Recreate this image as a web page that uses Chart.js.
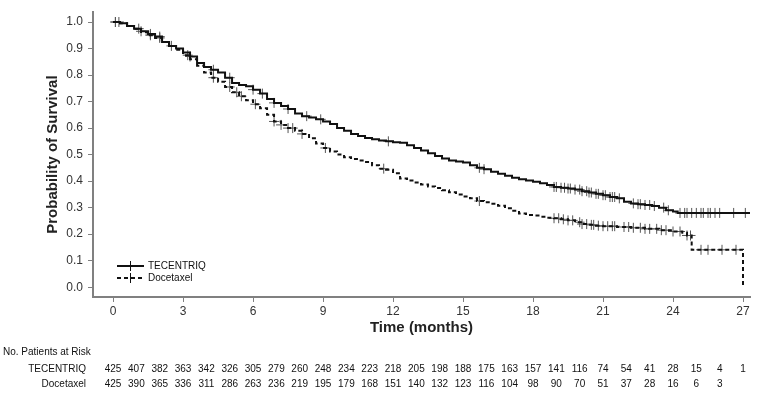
<!DOCTYPE html>
<html>
<head>
<meta charset="utf-8">
<script src="https://cdn.jsdelivr.net/npm/chart.js@4"></script>
<style>
  html, body { margin: 0; padding: 0; background: #fff; }
  #wrap { width: 763px; height: 394px; position: relative; }
</style>
</head>
<body>
<div id="wrap"><canvas id="kmChart" width="763" height="394"></canvas></div>
<script>
// Kaplan-Meier estimates (months, survival)
const tecTime = [0, 0.3, 0.6, 0.9, 1.2, 1.5, 1.8, 2.1, 2.4, 2.7, 3.0, 3.3, 3.6, 3.9, 4.2, 4.5, 4.8, 5.1, 5.4, 5.7,
  6.0, 6.3, 6.6, 6.9, 7.2, 7.5, 7.8, 8.1, 8.4, 8.7, 9.0, 9.3, 9.6, 9.9, 10.2, 10.5, 10.8, 11.1, 11.4, 11.7,
  12.0, 12.3, 12.6, 12.9, 13.2, 13.5, 13.8, 14.1, 14.4, 14.7, 15.0, 15.3, 15.6, 15.9, 16.2, 16.5, 16.8, 17.1,
  17.4, 17.7, 18.0, 18.3, 18.6, 18.9, 19.2, 19.5, 19.8, 20.1, 20.4, 20.7, 21.0, 21.3, 21.6, 21.9, 22.2, 22.5,
  22.8, 23.1, 23.4, 23.7, 24.0, 24.2, 27.3];
const tecSurv = [1.0, 0.995, 0.985, 0.975, 0.965, 0.955, 0.945, 0.925, 0.91, 0.9, 0.885, 0.87, 0.845, 0.83, 0.82, 0.81, 0.79, 0.77, 0.762, 0.758,
  0.745, 0.73, 0.71, 0.695, 0.683, 0.672, 0.655, 0.645, 0.64, 0.633, 0.625, 0.615, 0.6, 0.59, 0.578, 0.57, 0.563, 0.558, 0.553, 0.55,
  0.547, 0.545, 0.535, 0.525, 0.515, 0.505, 0.495, 0.485, 0.478, 0.474, 0.47, 0.46, 0.45, 0.445, 0.435, 0.428, 0.42, 0.413,
  0.407, 0.402, 0.398, 0.392, 0.385, 0.378, 0.375, 0.372, 0.368, 0.362, 0.357, 0.352, 0.347, 0.34, 0.335, 0.322, 0.316, 0.313,
  0.31, 0.306, 0.3, 0.29, 0.285, 0.28, 0.28];

const docTime = [0, 0.3, 0.6, 0.9, 1.2, 1.5, 1.8, 2.1, 2.4, 2.7, 3.0, 3.3, 3.6, 3.9, 4.2, 4.5, 4.8, 5.1, 5.4, 5.7,
  6.0, 6.3, 6.6, 6.9, 7.2, 7.5, 7.8, 8.1, 8.4, 8.7, 9.0, 9.3, 9.6, 9.9, 10.2, 10.5, 10.8, 11.1, 11.4, 11.7,
  12.0, 12.3, 12.6, 12.9, 13.2, 13.5, 13.8, 14.1, 14.4, 14.7, 15.0, 15.3, 15.6, 15.9, 16.2, 16.5, 16.8, 17.1,
  17.4, 17.7, 18.0, 18.3, 18.6, 18.9, 19.2, 19.5, 19.8, 20.1, 20.4, 20.7, 21.0, 21.6, 22.2, 22.8, 23.4, 24.0,
  24.4, 24.6, 24.8, 27.0];
const docSurv = [1.0, 0.995, 0.985, 0.975, 0.962, 0.95, 0.94, 0.925, 0.91, 0.895, 0.875, 0.86, 0.835, 0.81, 0.79, 0.775, 0.755, 0.735, 0.72, 0.705,
  0.69, 0.675, 0.65, 0.625, 0.612, 0.6, 0.59, 0.578, 0.562, 0.542, 0.525, 0.512, 0.5, 0.49, 0.483, 0.478, 0.472, 0.46, 0.447, 0.443,
  0.43, 0.41, 0.402, 0.395, 0.387, 0.38, 0.374, 0.366, 0.358, 0.35, 0.342, 0.335, 0.325, 0.32, 0.315, 0.307, 0.298, 0.288,
  0.278, 0.272, 0.27, 0.266, 0.262, 0.26, 0.256, 0.252, 0.245, 0.238, 0.235, 0.232, 0.23, 0.227, 0.224, 0.22, 0.215, 0.21,
  0.205, 0.195, 0.141, 0.0];

// censoring times (+ marks)
const tecCensor = [0.1, 0.25, 1.2, 1.6, 2.0, 3.3, 4.3, 5.0, 6.0, 6.4, 6.9, 7.5, 8.3, 8.9, 11.8, 15.7, 15.9,
  18.9, 19.0, 19.2, 19.35, 19.5, 19.6, 19.8, 20.0, 20.1, 20.3, 20.4, 20.5, 20.7, 20.8, 21.0, 21.1, 21.3, 21.4,
  21.5, 21.7, 22.3, 22.5, 22.6, 22.8, 23.0, 23.2, 23.6, 23.8, 24.3, 24.5, 24.6, 24.8, 25.0, 25.2, 25.3, 25.5,
  25.6, 25.8, 26.0, 26.6, 27.1];
const docCensor = [0.1, 1.1, 1.6, 2.0, 2.5, 3.2, 4.3, 5.0, 5.3, 5.5, 6.1, 6.9, 7.2, 7.5, 7.7, 8.1, 9.1, 11.6, 15.7,
  18.9, 19.1, 19.3, 19.5, 19.7, 20.0, 20.1, 20.3, 20.5, 20.6, 20.8, 21.0, 21.2, 21.4, 21.5, 21.9, 22.1, 22.3,
  22.6, 22.8, 23.0, 23.3, 23.5, 23.7, 24.0, 24.3, 24.6, 24.75, 25.2, 25.5, 26.1, 26.7];

// number at risk, one value per month
const riskMonths = [0, 1, 2, 3, 4, 5, 6, 7, 8, 9, 10, 11, 12, 13, 14, 15, 16, 17, 18, 19, 20, 21, 22, 23, 24, 25, 26, 27];
const tecRisk = [425, 407, 382, 363, 342, 326, 305, 279, 260, 248, 234, 223, 218, 205, 198, 188, 175, 163, 157, 141, 116, 74, 54, 41, 28, 15, 4, 1];
const docRisk = [425, 390, 365, 336, 311, 286, 263, 236, 219, 195, 179, 168, 151, 140, 132, 123, 116, 104, 98, 90, 70, 51, 37, 28, 16, 6, 3];

const xTicks = [0, 3, 6, 9, 12, 15, 18, 21, 24, 27];
const yTicks = [0, 0.1, 0.2, 0.3, 0.4, 0.5, 0.6, 0.7, 0.8, 0.9, 1.0];

const FONT = "'Liberation Sans', Arial, sans-serif";

function toPoints(xs, ys) {
  return xs.map((x, i) => ({ x: x, y: ys[i] }));
}

// survival value at time t (last step at or before t)
function survAt(times, surv, t) {
  let v = surv[0];
  for (let i = 0; i < times.length; i++) {
    if (times[i] <= t) v = surv[i];
  }
  return v;
}

function censorPoints(cens, times, surv) {
  return cens.map(t => ({ x: t, y: survAt(times, surv, t) }));
}

const extras = {
  id: "extras",
  afterDraw(chart) {
    const ctx = chart.ctx;
    const xs = chart.scales.x;
    ctx.save();
    ctx.font = "10px " + FONT;
    ctx.fillStyle = "#111";
    ctx.textBaseline = "middle";

    // risk table
    ctx.textAlign = "left";
    ctx.fillText("No. Patients at Risk", 3, 352);
    ctx.textAlign = "right";
    ctx.fillText("TECENTRIQ", 86, 369);
    ctx.fillText("Docetaxel", 86, 384);
    ctx.textAlign = "center";
    tecRisk.forEach((n, i) => ctx.fillText(String(n), xs.getPixelForValue(riskMonths[i]), 369));
    docRisk.forEach((n, i) => ctx.fillText(String(n), xs.getPixelForValue(riskMonths[i]), 384));

    // legend
    const rows = [
      { label: "TECENTRIQ", dash: [], y: 266 },
      { label: "Docetaxel", dash: [4, 3], y: 278 }
    ];
    rows.forEach(r => {
      ctx.strokeStyle = "#111";
      ctx.lineWidth = 2;
      ctx.setLineDash(r.dash);
      ctx.beginPath();
      ctx.moveTo(117, r.y);
      ctx.lineTo(144, r.y);
      ctx.stroke();
      ctx.setLineDash([]);
      ctx.lineWidth = 1;
      ctx.beginPath();
      ctx.moveTo(130.5, r.y - 5);
      ctx.lineTo(130.5, r.y + 5);
      ctx.stroke();
      ctx.textAlign = "left";
      ctx.fillText(r.label, 148, r.y);
    });
    ctx.restore();
  }
};

new Chart(
  document.getElementById("kmChart"),
  {
    type: "line",
    data: {
      datasets: [
        {
          label: "TECENTRIQ",
          data: toPoints(tecTime, tecSurv),
          stepped: "before",
          borderColor: "#111",
          borderWidth: 2,
          pointRadius: 0,
          fill: false
        },
        {
          label: "Docetaxel",
          data: toPoints(docTime, docSurv),
          stepped: "before",
          borderColor: "#111",
          borderWidth: 2,
          borderDash: [4, 3],
          pointRadius: 0,
          fill: false
        },
        {
          label: "TECENTRIQ censored",
          data: censorPoints(tecCensor, tecTime, tecSurv),
          showLine: false,
          pointStyle: "cross",
          pointRadius: 5,
          pointBorderWidth: 1,
          pointBorderColor: "#555",
          borderColor: "#555"
        },
        {
          label: "Docetaxel censored",
          data: censorPoints(docCensor, docTime, docSurv),
          showLine: false,
          pointStyle: "cross",
          pointRadius: 5,
          pointBorderWidth: 1,
          pointBorderColor: "#555",
          borderColor: "#555"
        }
      ]
    },
    options: {
      responsive: false,
      animation: false,
      layout: { padding: { left: 0, right: 13, top: 8, bottom: 53 } },
      plugins: {
        legend: { display: false },
        tooltip: { enabled: false }
      },
      scales: {
        x: {
          type: "linear",
          min: -0.86,
          max: 27.3,
          afterBuildTicks: s => { s.ticks = xTicks.map(v => ({ value: v })); },
          afterFit: s => { s.height = 44; },
          border: { display: true, color: "#808080", width: 2 },
          grid: { display: true, drawOnChartArea: false, drawTicks: true, tickLength: 5, color: "#808080" },
          ticks: { color: "#333", font: { family: FONT, size: 12 }, padding: 2, maxRotation: 0 },
          title: {
            display: true,
            text: "Time (months)",
            color: "#222",
            font: { family: FONT, size: 15, weight: "bold" },
            padding: { top: 0, bottom: 4 }
          }
        },
        y: {
          min: -0.037,
          max: 1.037,
          afterBuildTicks: s => { s.ticks = yTicks.map(v => ({ value: v })); },
          afterFit: s => { s.width = 93; },
          border: { display: true, color: "#808080", width: 2 },
          grid: { display: true, drawOnChartArea: false, drawTicks: true, tickLength: 5, color: "#808080" },
          ticks: {
            color: "#333",
            font: { family: FONT, size: 12 },
            padding: 5,
            callback: v => v.toFixed(1)
          },
          title: {
            display: true,
            text: "Probability of Survival",
            color: "#222",
            font: { family: FONT, size: 15, weight: "bold" },
            padding: { top: 44, bottom: 0 }
          }
        }
      }
    },
    plugins: [extras]
  }
);
</script>
</body>
</html>
